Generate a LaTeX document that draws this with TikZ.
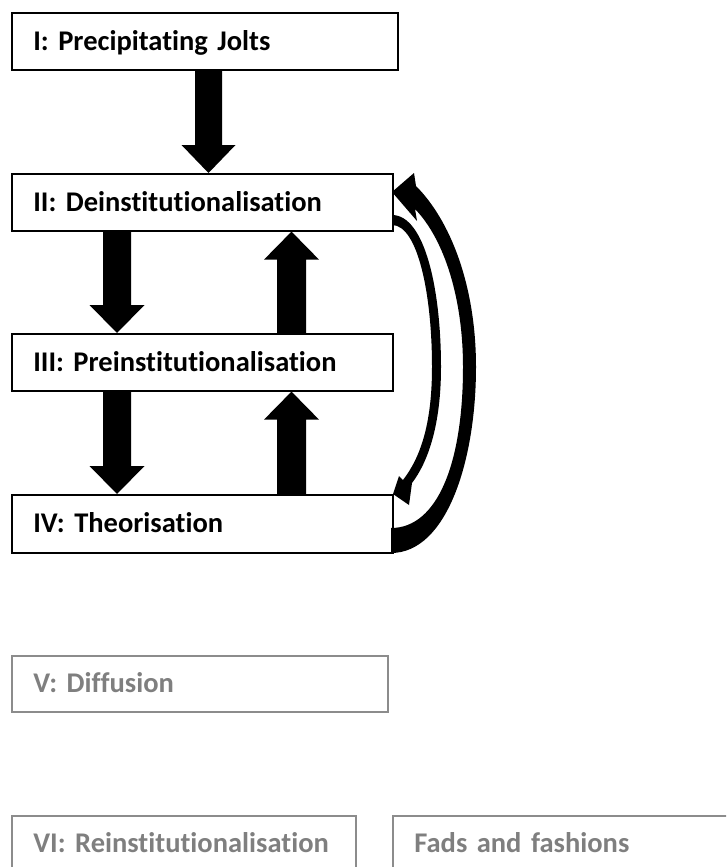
\documentclass[tikz,border=0pt]{standalone}
\usepackage{fontspec}
\setmainfont{Carlito}[RawFeature={-liga;-dlig;-clig}]
\usetikzlibrary{calc}
\definecolor{greytext}{RGB}{127,127,127}
\definecolor{greyline}{RGB}{140,140,140}
\newcommand\downblk[5]{%
  \fill let \p1=#4, \p2=#5 in
   ({#1pt-#2pt},\y1) -- ({#1pt+#2pt},\y1) -- ({#1pt+#2pt},\y2+28pt) -- ({#1pt+#3pt},\y2+28pt)
   -- (#1pt,\y2) -- ({#1pt-#3pt},\y2+28pt) -- ({#1pt-#2pt},\y2+28pt) -- cycle;}
\newcommand\upblk[5]{%
  \fill let \p1=#4, \p2=#5 in
   ({#1pt-#2pt},\y1) -- ({#1pt+#2pt},\y1) -- ({#1pt+#2pt},\y2-28pt) -- ({#1pt+#3pt},\y2-28pt)
   -- (#1pt,\y2) -- ({#1pt-#3pt},\y2-28pt) -- ({#1pt-#2pt},\y2-28pt) -- cycle;}
\frenchspacing
\begin{document}
\begin{tikzpicture}[x=1pt,y=-1pt,
  stage/.style={draw=black, line width=1.6pt, rectangle, anchor=north west,
    inner xsep=21.5pt, inner ysep=0pt, align=left, text height=18pt, text depth=0pt,
    font=\fontsize{28.5}{34}\selectfont\bfseries\frenchspacing},
  greystage/.style={stage, draw=greyline, text=greytext}]
\useasboundingbox (0,0) rectangle (726,867);
\clip (0,0) rectangle (726,867);
\node[stage, minimum width=386pt, minimum height=57pt, text width=343pt] (I) at (11,12) {I: Precipitating Jolts};
\node[stage, minimum width=381pt, minimum height=57pt, text width=338pt] (II) at (11,173) {II: Deinstitutionalisation};
\node[stage, minimum width=381pt, minimum height=57pt, text width=338pt] (III) at (11,333) {III: Preinstitutionalisation};
\node[stage, minimum width=381pt, minimum height=58pt, text width=338pt] (IV) at (11,494) {IV: Theorisation};
\node[greystage, minimum width=376pt, minimum height=56pt, text width=333pt] (V) at (11,655) {V: Diffusion};
\node[greystage, minimum width=344pt, minimum height=56pt, text width=301pt] (VI) at (11,815) {VI: Reinstitutionalisation};
\node[greystage, minimum width=360pt, minimum height=56pt, text width=317pt] (F) at (392,815) {Fads and fashions};
% straight block arrows
\downblk{208.5}{13.5}{27}{(I.south)}{(II.north)}
\downblk{117}{14}{27.5}{(II.south)}{(III.north)}
\upblk{291.5}{14.5}{27.5}{(III.north)}{(II.south)}
\downblk{117}{14}{27.5}{(III.south)}{(IV.north)}
\upblk{291.5}{14.5}{27.5}{(IV.north)}{(III.south)}
% outer curved arrow IV -> II
\fill (391,553) .. controls (447,553) and (476,460) .. (476,367)
  .. controls (476,285) and (450,220) .. (416,186)
  -- (414,173) -- (392,192) -- (417,221) -- (415,209)
  .. controls (445,240) and (463,300) .. (463,367)
  .. controls (463,462) and (438,528) .. (391,528) -- cycle;
% inner curved arrow II -> IV
\fill (392,215) .. controls (425,215) and (441,290) .. (441,367)
  .. controls (441,425) and (428,462) .. (412,483)
  -- (409,505) -- (393,494) -- (399,476) -- (403,480)
  .. controls (420,458) and (432,425) .. (432,367)
  .. controls (432,295) and (418,225) .. (392,225) -- cycle;
\end{tikzpicture}
\end{document}
